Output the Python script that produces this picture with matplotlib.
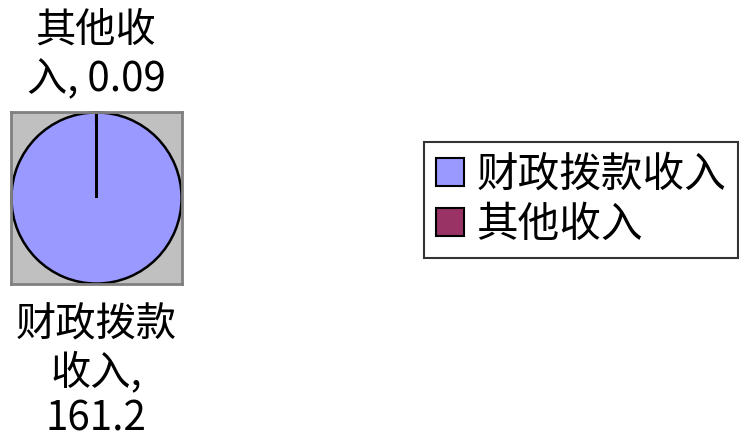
import matplotlib.pyplot as plt
from matplotlib.patches import Patch

plt.rcParams['font.family'] = ['Noto Sans CJK SC', 'DejaVu Sans']

# 데이터
categories = ['财政拨款收入', '其他收入']
values = [161.2, 0.09]
colors = ['#9999FF', '#993366']
# 数据标签 (按图中换行)
label_lines = {
    '其他收入': ['其他收', '入, 0.09'],
    '财政拨款收入': ['财政拨款', '收入,', '161.2'],
}

fig = plt.figure(figsize=(7.39, 4.42), dpi=100)
W, H = 739, 442

# 饼图区域 (灰色背景)
ax = fig.add_axes([11 / W, 1 - 284 / H, 171 / W, 172 / H])
ax.pie(values, colors=colors, startangle=90, counterclock=False,
       radius=1.0, wedgeprops=dict(edgecolor='black', linewidth=1.8))
ax.set_frame_on(True)
ax.set_facecolor('#C0C0C0')
for s in ax.spines.values():
    s.set_color('#808080')
    s.set_linewidth(2)
ax.set_xlim(-1.005, 1.005)
ax.set_ylim(-1.005, 1.005)
ax.set_aspect('auto')
ax.set_xticks([])
ax.set_yticks([])

# 数据标签
def put_lines(lines, y0, step):
    for i, t in enumerate(lines):
        fig.text(96 / W, 1 - (y0 + i * step) / H, t, fontsize=29,
                 ha='center', va='center', color='black')

put_lines(label_lines['其他收入'], 30, 50)
put_lines(label_lines['财政拨款收入'], 325, 47)

# 图例
handles = [Patch(facecolor=c, edgecolor='black', linewidth=1.5, label=n)
           for c, n in zip(colors, categories)]
leg = fig.legend(handles=handles, loc='upper left',
                 bbox_to_anchor=(424 / W, 1 - 142 / H),
                 fontsize=30, frameon=True, fancybox=False, shadow=False,
                 handlelength=0.65, handleheight=0.65, handletextpad=0.3,
                 borderpad=0.3, labelspacing=0.22, borderaxespad=0)
leg.get_frame().set_edgecolor('black')
leg.get_frame().set_linewidth(1.5)

fig.savefig('out.png', dpi=100)
